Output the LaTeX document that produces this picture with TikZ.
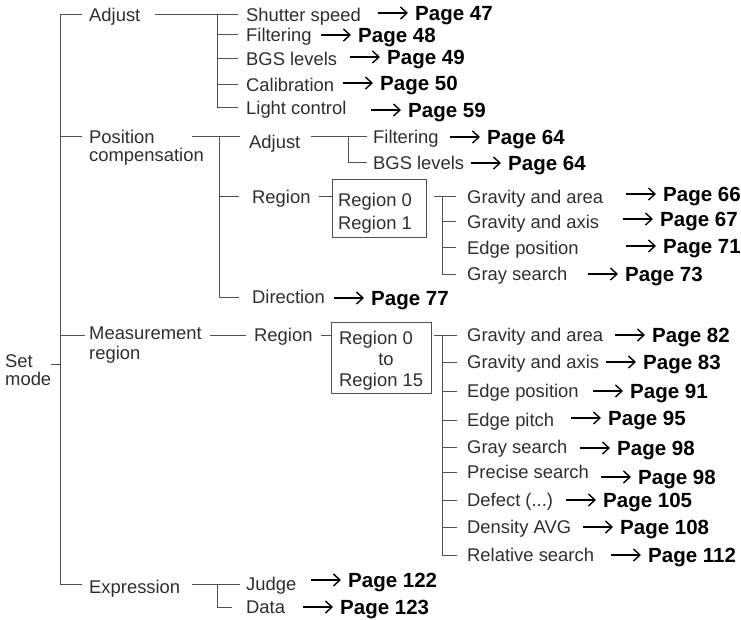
\documentclass[tikz,border=0pt]{standalone}
\usepackage{fontspec}
\setmainfont{Liberation Sans}
\usetikzlibrary{arrows.meta,calc}
\definecolor{labcol}{HTML}{2E2E2E}
\definecolor{lncol}{HTML}{505050}
\begin{document}
\begin{tikzpicture}[x=1pt,y=-1pt,
  lab/.style={anchor=west,inner sep=0pt,text=labcol,font=\fontsize{18.4}{20}\selectfont,text height=13.1pt,text depth=0pt},
  pg/.style={anchor=west,inner sep=0pt,font=\fontsize{20.5}{22}\selectfont\bfseries,text height=14.7pt,text depth=0pt},
  ln/.style={draw=lncol,line width=1pt},
  arr/.style={draw=black,line width=1.5pt,-{Straight Barb[length=6.5pt,width=12pt,line width=1.4pt]}},
  rbox/.style={draw=lncol,line width=1pt,inner sep=0pt}]
\useasboundingbox (0,0) rectangle (741,620);

% ---- coordinates of spines
\coordinate (trunk) at (60,0);
\coordinate (sA) at (217,0);
\coordinate (sB) at (219,0);
\coordinate (sC) at (348,0);
\coordinate (sD) at (442,0);
\coordinate (sF) at (217,0);
\coordinate (setTick) at (51,364);

% ---- root and first level
\node[lab] (set1) at (5,361) {Set};
\node[lab] (set2) at (5,379) {mode};
\node[lab] (adj) at (89,15) {Adjust};
\node[lab] (pos1) at (89,137) {Position};
\node[lab] (pos2) at (89,155) {compensation};
\node[lab] (meas1) at (89,333) {Measurement};
\node[lab] (meas2) at (89,353) {region};
\node[lab] (expr) at (89,587) {Expression};

% ---- Adjust children
\node[lab] (a1) at (246,15) {Shutter speed};
\node[lab] (a2) at (246,35) {Filtering};
\node[lab] (a3) at (246,59) {BGS levels};
\node[lab] (a4) at (246,85) {Calibration};
\node[lab] (a5) at (246,108) {Light control};

% ---- Position compensation children
\node[lab] (b1) at (249,142) {Adjust};
\node[lab] (b2) at (252,197) {Region};
\node[lab] (b3) at (252,297) {Direction};
\node[lab] (c1) at (373,137) {Filtering};
\node[lab] (c2) at (373,163) {BGS levels};
\node[rbox,minimum width=94pt,minimum height=58pt] (box1) at (379,209) {};
\node[lab] (r10) at (338,200) {Region 0};
\node[lab] (r11) at (338,223) {Region 1};
\node[lab] (d1) at (467,197) {Gravity and area};
\node[lab] (d2) at (467,222) {Gravity and axis};
\node[lab] (d3) at (467,248) {Edge position};
\node[lab] (d4) at (467,274) {Gray search};

% ---- Measurement region children
\node[lab] (mreg) at (254,335) {Region};
\node[rbox,minimum width=100pt,minimum height=71pt] (box2) at (381,357.5) {};
\node[lab] (r20) at (339,338) {Region 0};
\node[lab,anchor=center] (r2to) at (386,359) {to};
\node[lab] (r215) at (339,380) {Region 15};
\node[lab] (e1) at (467,335) {Gravity and area};
\node[lab] (e2) at (467,362) {Gravity and axis};
\node[lab] (e3) at (467,391) {Edge position};
\node[lab] (e4) at (467,420) {Edge pitch};
\node[lab] (e5) at (467,447) {Gray search};
\node[lab] (e6) at (467,472) {Precise search};
\node[lab] (e7) at (467,500) {Defect (...)};
\node[lab] (e8) at (467,527) {Density AVG};
\node[lab] (e9) at (467,555) {Relative search};

% ---- Expression children
\node[lab] (j1) at (246,584) {Judge};
\node[lab] (j2) at (246,607) {Data};

% ---- page references
\node[pg] (p47) at (415,13) {Page 47};
\node[pg] (p48) at (358,35) {Page 48};
\node[pg] (p49) at (387,57) {Page 49};
\node[pg] (p50) at (380,83) {Page 50};
\node[pg] (p59) at (408,110) {Page 59};
\node[pg] (p64a) at (487,137) {Page 64};
\node[pg] (p64b) at (508,163) {Page 64};
\node[pg] (p66) at (663,194) {Page 66};
\node[pg] (p67) at (660,219) {Page 67};
\node[pg] (p71) at (663,246) {Page 71};
\node[pg] (p73) at (625,274) {Page 73};
\node[pg] (p77) at (371,298) {Page 77};
\node[pg] (p82) at (652,335) {Page 82};
\node[pg] (p83) at (643,362) {Page 83};
\node[pg] (p91) at (630,391) {Page 91};
\node[pg] (p95) at (608,418) {Page 95};
\node[pg] (p98a) at (617,448) {Page 98};
\node[pg] (p98b) at (638,477) {Page 98};
\node[pg] (p105) at (603,500) {Page 105};
\node[pg] (p108) at (620,527) {Page 108};
\node[pg] (p112) at (648,555) {Page 112};
\node[pg] (p122) at (348,580) {Page 122};
\node[pg] (p123) at (340,607) {Page 123};

\foreach \p in {p47,p48,p49,p50,p59,p64a,p64b,p66,p67,p71,p73,p77,p82,p83,p91,p95,p98a,p98b,p105,p108,p112,p122,p123}
  \draw[arr] ([xshift=-37pt]\p.west) -- ([xshift=-7pt]\p.west);

% ---- trunk
\draw[ln] ([xshift=-7pt]adj.west) -| (trunk |- j1.west) -- ([xshift=-7pt]expr.west |- j1.west);
\draw[ln] (trunk |- pos1.west) -- ([xshift=-7pt]pos1.west);
\draw[ln] (trunk |- mreg.west) -- ([xshift=-4pt]meas1.west |- mreg.west);
\draw[ln] (setTick) -- (trunk |- setTick);

% ---- Adjust group
\draw[ln] ([xshift=14pt]adj.east) -- ([xshift=-8pt]a1.west);
\draw[ln] (sA |- a1.west) -- (sA |- a5.west) -- ([xshift=-8pt]a5.west);
\foreach \n in {a2,a3,a4}
  \draw[ln] (sA |- \n.west) -- ([xshift=-8pt]\n.west);

% ---- Position compensation group
\draw[ln] ([xshift=-9pt]b1.west |- pos1.west) -- ([xshift=-12pt]pos2.east |- pos1.west);
\draw[ln] (sB |- pos1.west) -- (sB |- b3.west) -- ([xshift=-13pt]b3.west);
\draw[ln] (sB |- b2.west) -- ([xshift=-13pt]b2.west);
\draw[ln] ([xshift=10pt]b1.east |- c1.west) -- ([xshift=-6pt]c1.west);
\draw[ln] (sC |- c1.west) -- (sC |- c2.west) -- ([xshift=-6pt]c2.west);
\draw[ln] ([xshift=8pt]b2.east) -- (box1.west |- b2.east);
\draw[ln] ([xshift=7pt]box1.east |- d1.west) -- ([xshift=-11pt]d1.west);
\draw[ln] (sD |- d1.west) -- (sD |- d4.west) -- ([xshift=-11pt]d4.west);
\foreach \n in {d2,d3}
  \draw[ln] (sD |- \n.west) -- ([xshift=-11pt]\n.west);

% ---- Measurement group
\draw[ln] ([xshift=8pt]meas1.east |- mreg.west) -- ([xshift=-8pt]mreg.west);
\draw[ln] ([xshift=8pt]mreg.east) -- (box2.west |- mreg.east);
\draw[ln] ([xshift=2pt]box2.east |- e1.west) -- ([xshift=-10pt]e1.west);
\draw[ln] (sD |- e1.west) -- (sD |- e9.west) -- ([xshift=-10pt]e9.west);
\foreach \n in {e2,e3,e4,e5,e6,e7,e8}
  \draw[ln] (sD |- \n.west) -- ([xshift=-10pt]\n.west);

% ---- Expression group
\draw[ln] ([xshift=12pt]expr.east |- j1.west) -- ([xshift=-6pt]j1.west);
\draw[ln] (sF |- j1.west) -- (sF |- j2.west) -- ([xshift=-14pt]j2.west);
\end{tikzpicture}
\end{document}
